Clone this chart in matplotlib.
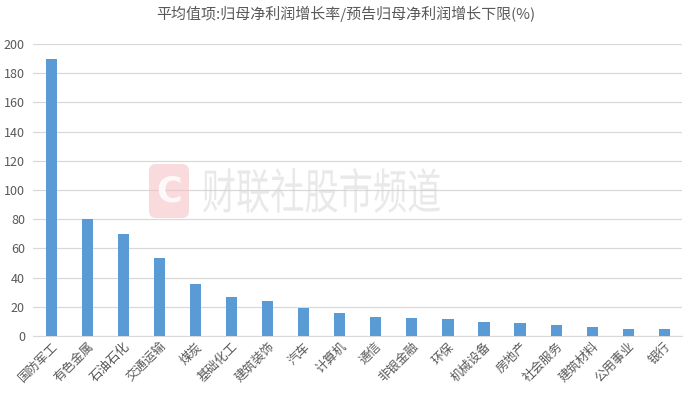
import matplotlib.pyplot as plt
from matplotlib.patches import FancyBboxPatch, PathPatch
from matplotlib.textpath import TextPath
from matplotlib.font_manager import FontProperties
from matplotlib.transforms import Affine2D

plt.rcParams['font.family'] = ['Noto Sans CJK SC', 'DejaVu Sans']

# 行业与数值
industries = ['国防军工', '有色金属', '石油石化', '交通运输', '煤炭', '基础化工', '建筑装饰', '汽车',
              '计算机', '通信', '非银金融', '环保', '机械设备', '房地产', '社会服务', '建筑材料',
              '公用事业', '银行']
values = [189.7, 80.2, 69.8, 53.6, 35.8, 26.8, 23.8, 18.9, 15.8, 13.2, 12.5, 11.9, 9.4, 8.7,
          7.3, 6.2, 5.0, 4.6]
yticks = [0, 20, 40, 60, 80, 100, 120, 140, 160, 180, 200]

fig = plt.figure(figsize=(6.92, 3.99), dpi=100)
ax = fig.add_axes([0.048, 0.158, 0.938, 0.732])

x = range(len(industries))
ax.bar(x, values, width=0.31, color='#5b9bd5', zorder=3)

ax.set_ylim(0, 200)
ax.set_xlim(-0.5, len(industries) - 0.5)
ax.set_yticks(yticks)
ax.grid(axis='y', color='#d9d9d9', linewidth=0.9, zorder=0)
ax.set_xticks(list(x))
ax.set_xticklabels(industries, rotation=45, ha='right', rotation_mode='anchor',
                   fontsize=9, color='#595959')
ax.tick_params(axis='y', labelsize=9, labelcolor='#595959', length=0, pad=6)
ax.tick_params(axis='x', length=0, pad=3)
for s in ['top', 'right', 'left']:
    ax.spines[s].set_visible(False)
ax.spines['bottom'].set_color('#d9d9d9')

fig.suptitle('平均值项:归母净利润增长率/预告归母净利润增长下限(%)', fontsize=10.8,
             color='#595959', y=0.985)

# 水印 (像素坐标, 原点在左下), 半透明, 网格线透出
H = 399
logo = FancyBboxPatch((149, H - 218), 40, 54, boxstyle='round,pad=0,rounding_size=7',
                      transform=None, facecolor='#f5b8bf', edgecolor='none', alpha=0.5,
                      zorder=5)
fig.patches.append(logo)
fig.text(169 / 692, (H - 191) / H, 'C', fontsize=25, fontweight='bold', color='white',
         ha='center', va='center', zorder=6, family='DejaVu Sans', alpha=0.85)

tp = TextPath((0, 0), '财联社股市频道', size=50, prop=FontProperties(family='Noto Sans CJK SC'))
b = tp.get_extents()
x0, x1, ytop, ybot = 203, 440, 168, 213
sx = (x1 - x0) / b.width
sy = (ybot - ytop) / b.height
tr = Affine2D().translate(-b.x0, -b.y0).scale(sx, sy).translate(x0, H - ybot)
fig.patches.append(PathPatch(tp, transform=tr, facecolor='#d0d0d0', edgecolor='none',
                             zorder=6, alpha=0.45))

fig.savefig('out.png', dpi=100)
